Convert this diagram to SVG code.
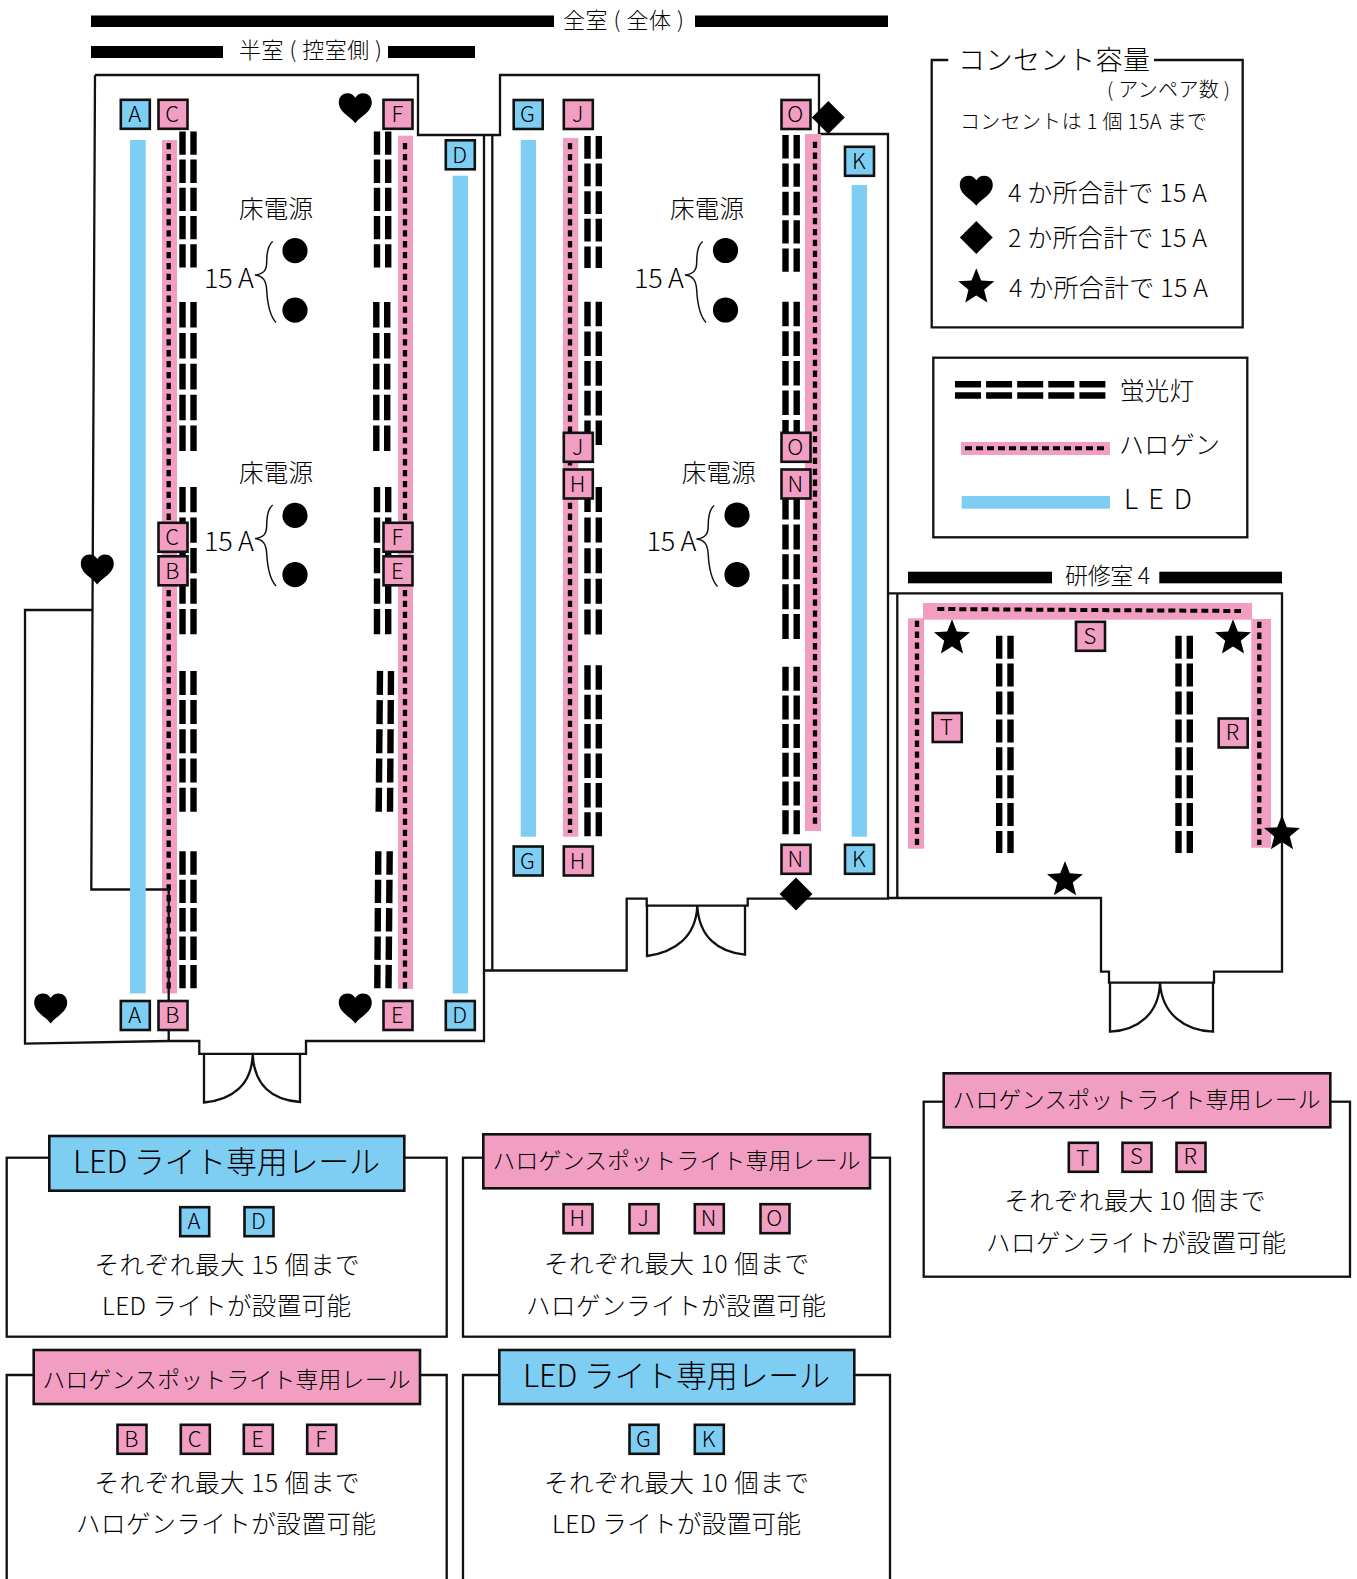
<svg xmlns="http://www.w3.org/2000/svg" width="1357" height="1579" viewBox="0 0 1357 1579">
<style>
text{font-family:"Noto Sans CJK JP","Noto Sans",sans-serif;font-weight:300;fill:#000}
.bt{font-size:22px;text-anchor:middle}
.b rect{stroke:#111;stroke-width:2.6}
.blue{fill:#7ecef4}
.pink{fill:#f19ec2}
.wall{fill:none;stroke:#111;stroke-width:2.3;stroke-linejoin:miter}
.brace{fill:none;stroke:#111;stroke-width:1.5}
.fl{fill:none;stroke:#000;stroke-width:6.4}
.dot{fill:none;stroke:#000;stroke-width:4.3;stroke-dasharray:6.3 4.6}
.dash{fill:none;stroke:#000;stroke-width:4;stroke-dasharray:7 4}
.bar{fill:#000}
.hd{stroke:#111;stroke-width:2.6}
.frame{fill:#fff;stroke:#111;stroke-width:2.3}
</style>
<defs>
<path id="heart" d="M0 15C-5 8-16.5 4-16.5-6C-16.5-12-12-15-8-15C-4-15-1.5-13 0-10.5C1.5-13 4-15 8-15C12-15 16.5-12 16.5-6C16.5 4 5 8 0 15Z"/>
<path id="star" d="M0-18.9L4.82-6.63L18-5.84L7.8 2.53L11.1 15.3L0 8.2L-11.1 15.3L-7.8 2.53L-18-5.84L-4.82-6.63Z"/>
<path id="diamond" d="M0-16.5L16.5 0L0 16.5L-16.5 0Z"/>
<path id="brace" d="M272.7 241.5C268 245 266.7 252 266.7 262C266.7 270 264 274 255 275C263 276 266 280 266.7 290C267.5 305 270 316 276 322.5"/>
</defs>

<g id="titles">
<rect class="bar" x="91" y="15.5" width="463" height="11.5"/>
<rect class="bar" x="695" y="15.5" width="193" height="11.5"/>
<text x="563" y="28" font-size="22" textLength="121">全室 ( 全体 )</text>
<rect class="bar" x="91" y="46" width="132" height="12"/>
<rect class="bar" x="388" y="46" width="87" height="12"/>
<text x="239" y="58" font-size="22" textLength="143">半室 ( 控室側 )</text>
<rect class="bar" x="908" y="571.7" width="144" height="11.6"/>
<rect class="bar" x="1159.3" y="571.7" width="122.7" height="11.6"/>
<text x="1065" y="583.5" font-size="23" textLength="85">研修室 4</text>
</g>

<g id="walls">
<path class="wall" d="M95 75H418V135H500V75H819V134H888V898.7H747.7V905.7H646.7V898.7H626.7V970.5H484"/>
<path class="wall" d="M95 75L92.5 610L91.3 889.5H135"/>
<path class="wall" d="M92.5 610H25V1043.6L169 1041H199.3V1053.8H306V1041H484V135"/>
<path class="wall" d="M492.3 135V970.5"/>
<path class="wall" d="M888 593.3H1282V971.7H1214V982.7H1109V971.7H1101V898H888"/>
<path class="wall" d="M897.3 593.3V898"/>
<path class="wall" d="M204 1054V1102.5C232 1100 252 1085 252.7 1054C254 1085 272 1100 300 1102V1054"/>
<path class="wall" d="M647 905.7V956C675 952 696 937 697.3 905.7C699 937 718 952 745 954.7V905.7"/>
<path class="wall" d="M1110 982.7V1031.7C1138 1030 1159 1014 1160 982.7C1162 1014 1184 1030 1213 1031.7V982.7"/>
</g>

<g id="rails">
<rect class="blue" x="130" y="140" width="15.7" height="853.5"/>
<rect class="blue" x="452.7" y="175.7" width="15.3" height="817.8"/>
<rect class="blue" x="520.7" y="140" width="15.3" height="696.7"/>
<rect class="blue" x="851.7" y="185" width="15.3" height="651.7"/>
<rect class="pink" x="162" y="140" width="15" height="853.5"/>
<rect class="pink" x="398" y="135.7" width="15" height="853.3"/>
<rect class="pink" x="563" y="138" width="15.3" height="698.7"/>
<rect class="pink" x="805" y="134" width="16" height="697"/>
<rect class="pink" x="923" y="603" width="329" height="16.7"/>
<rect class="pink" x="908" y="618.3" width="16" height="230.4"/>
<rect class="pink" x="1251.3" y="619" width="19.7" height="228.7"/>
<path class="dot" d="M168.7 143V993"/>
<path class="dot" d="M405 143V990"/>
<path class="dot" d="M570 143V833"/>
<path class="dot" d="M815 141.7V828"/>
<path class="dash" d="M937.3 609L1241 611"/>
<path class="dot" d="M917 620.7V846"/>
<path class="dot" d="M1259.3 621.7V845"/>
<path class="wall" d="M145.7 889.5H168.7V1041"/>
</g>

<g id="fluorescent">
<path class="fl" stroke-dasharray="23.3 4.9" d="M182.5 131.4V267.5M193.5 131.4V267.5"/>
<path class="fl" stroke-dasharray="25.6 5.3" d="M182.5 302V451M193.5 302V451"/>
<path class="fl" stroke-dasharray="25.3 5.2" d="M182.5 487V634.5M193.5 487V634.5"/>
<path class="fl" stroke-dasharray="24 5.2" d="M182.5 670.9V812M193.5 670.9V812"/>
<path class="fl" stroke-dasharray="23.4 5" d="M182.5 851.3V988.7M193.5 851.3V988.7"/>
<path class="fl" stroke-dasharray="23.3 4.9" d="M377 131.4V267.5M388.2 131.4V267.5"/>
<path class="fl" stroke-dasharray="25.6 5.3" d="M376.3 302V451M387.2 302V451"/>
<path class="fl" stroke-dasharray="25.3 5.2" d="M377 487V634.5M388.2 487V634.5"/>
<path class="fl" stroke-dasharray="24 5.2" d="M380 670.9L378.7 812M391 670.9L390 812"/>
<path class="fl" stroke-dasharray="23.4 5" d="M378.3 851.3L377.3 988.7M389.7 851.3L388.5 988.7"/>
<path class="fl" stroke-dasharray="22.7 4.9" d="M587.5 136V268M598.8 136V268"/>
<path class="fl" stroke-dasharray="24.6 5.1" d="M587.5 301.7V445M598.8 301.7V445"/>
<path class="fl" stroke-dasharray="25 5.6" d="M587.5 487V634.7M598.8 487V634.7"/>
<path class="fl" stroke-dasharray="24.5 4.9" d="M587.5 665.3V836.3M598.8 665.3V836.3"/>
<path class="fl" stroke-dasharray="23.4 5" d="M785.5 135V271.7M796.7 135V271.7"/>
<path class="fl" stroke-dasharray="24.6 5" d="M785.5 301.7V445M796.7 301.7V445"/>
<path class="fl" stroke-dasharray="25 4.9" d="M785.5 494.5V639M796.7 494.5V639"/>
<path class="fl" stroke-dasharray="24 4.7" d="M785.5 666.7V834.3M796.7 666.7V834.3"/>
<path class="fl" stroke-dasharray="23 4.9" d="M999.2 635.7V853M1010.5 635.7V853"/>
<path class="fl" stroke-dasharray="23 4.9" d="M1178.5 635.7V853M1189.8 635.7V853"/>
</g>

<g id="outlets">
<circle cx="295" cy="250.7" r="12.6"/><circle cx="295" cy="310.2" r="12.6"/>
<circle cx="295" cy="515.4" r="12.6"/><circle cx="295" cy="574.7" r="12.6"/>
<circle cx="725.5" cy="250.5" r="12.6"/><circle cx="725.5" cy="310" r="12.6"/>
<circle cx="737" cy="515" r="12.6"/><circle cx="737" cy="574.7" r="12.6"/>
<use class="brace" href="#brace"/>
<use class="brace" href="#brace" transform="translate(0 263.5)"/>
<use class="brace" href="#brace" transform="translate(430 0)"/>
<use class="brace" href="#brace" transform="translate(441.5 264)"/>
<text x="239" y="218" font-size="24.5" textLength="74">床電源</text>
<text x="239" y="482" font-size="24.5" textLength="74">床電源</text>
<text x="670" y="218" font-size="24.5" textLength="74">床電源</text>
<text x="681.7" y="482" font-size="24.5" textLength="74">床電源</text>
<text x="204" y="288" font-size="27" textLength="50">15 A</text>
<text x="204" y="550.5" font-size="27" textLength="50">15 A</text>
<text x="634" y="287.5" font-size="27" textLength="50">15 A</text>
<text x="646.5" y="550.5" font-size="27" textLength="50">15 A</text>
</g>

<g id="sockets">
<use href="#heart" x="355.3" y="108.3"/><use href="#heart" x="97.3" y="569.6"/>
<use href="#heart" x="50.7" y="1008.5"/><use href="#heart" x="355.3" y="1008.5"/>
<use href="#diamond" x="828.3" y="117.5"/><use href="#diamond" x="796" y="894"/>
<use href="#star" x="952" y="638.2"/><use href="#star" x="1233" y="638.2"/>
<use href="#star" x="1282" y="833.9"/><use href="#star" x="1065" y="880"/>
</g>

<g id="box-A1" class="b"><rect class="blue" x="120.8" y="99.8" width="29" height="29"/><text class="bt" x="134.8" y="122">A</text></g>
<g id="box-C1" class="b"><rect class="pink" x="158.5" y="99.8" width="29" height="29"/><text class="bt" x="172.2" y="122">C</text></g>
<g id="box-F1" class="b"><rect class="pink" x="383.5" y="99.8" width="29" height="29"/><text class="bt" x="397.3" y="122">F</text></g>
<g id="box-D1" class="b"><rect class="blue" x="445.8" y="140.3" width="29" height="29"/><text class="bt" x="459.6" y="162.5">D</text></g>
<g id="box-C2" class="b"><rect class="pink" x="158.5" y="522.8" width="29" height="29"/><text class="bt" x="172.2" y="545">C</text></g>
<g id="box-F2" class="b"><rect class="pink" x="383.5" y="522.8" width="29" height="29"/><text class="bt" x="397.3" y="545">F</text></g>
<g id="box-B2" class="b"><rect class="pink" x="158.5" y="556.3" width="29" height="29"/><text class="bt" x="172.2" y="578.5">B</text></g>
<g id="box-E2" class="b"><rect class="pink" x="383.5" y="556.3" width="29" height="29"/><text class="bt" x="397.3" y="578.5">E</text></g>
<g id="box-A3" class="b"><rect class="blue" x="120.8" y="1001" width="29" height="29"/><text class="bt" x="134.8" y="1023.2">A</text></g>
<g id="box-B3" class="b"><rect class="pink" x="158.5" y="1001" width="29" height="29"/><text class="bt" x="172.2" y="1023.2">B</text></g>
<g id="box-E3" class="b"><rect class="pink" x="383.5" y="1001" width="29" height="29"/><text class="bt" x="397.3" y="1023.2">E</text></g>
<g id="box-D3" class="b"><rect class="blue" x="445.8" y="1001" width="29" height="29"/><text class="bt" x="459.6" y="1023.2">D</text></g>
<g id="box-G1" class="b"><rect class="blue" x="513.7" y="100" width="29" height="29"/><text class="bt" x="527.5" y="122.2">G</text></g>
<g id="box-J1" class="b"><rect class="pink" x="563.8" y="100" width="29" height="29"/><text class="bt" x="577.6" y="122.2">J</text></g>
<g id="box-O1" class="b"><rect class="pink" x="781.5" y="100" width="29" height="29"/><text class="bt" x="795.3" y="122.2">O</text></g>
<g id="box-K1" class="b"><rect class="blue" x="845" y="146.8" width="29" height="29"/><text class="bt" x="858.8" y="169">K</text></g>
<g id="box-J2" class="b"><rect class="pink" x="563.8" y="432.8" width="29" height="29"/><text class="bt" x="577.6" y="455">J</text></g>
<g id="box-H2" class="b"><rect class="pink" x="563.8" y="469.5" width="29" height="29"/><text class="bt" x="577.6" y="491.7">H</text></g>
<g id="box-O2" class="b"><rect class="pink" x="781.5" y="432.8" width="29" height="29"/><text class="bt" x="795.3" y="455">O</text></g>
<g id="box-N2" class="b"><rect class="pink" x="781.5" y="469.5" width="29" height="29"/><text class="bt" x="795.3" y="491.7">N</text></g>
<g id="box-G3" class="b"><rect class="blue" x="513.7" y="846.5" width="29" height="29"/><text class="bt" x="527.5" y="868.7">G</text></g>
<g id="box-H3" class="b"><rect class="pink" x="563.8" y="846.5" width="29" height="29"/><text class="bt" x="577.6" y="868.7">H</text></g>
<g id="box-N3" class="b"><rect class="pink" x="781.5" y="844.8" width="29" height="29"/><text class="bt" x="795.3" y="867">N</text></g>
<g id="box-K3" class="b"><rect class="blue" x="845" y="844.8" width="29" height="29"/><text class="bt" x="858.8" y="867">K</text></g>
<g id="box-S" class="b"><rect class="pink" x="1076" y="621.8" width="29" height="29"/><text class="bt" x="1089.8" y="643.5">S</text></g>
<g id="box-T" class="b"><rect class="pink" x="932.7" y="713" width="29" height="29"/><text class="bt" x="946.5" y="734.7">T</text></g>
<g id="box-R" class="b"><rect class="pink" x="1218.7" y="718.5" width="29" height="29"/><text class="bt" x="1232.5" y="740.2">R</text></g>

<g id="legend-capacity">
<path class="wall" d="M948.3 60H931.7V327.3H1242.7V60H1154"/>
<text x="958" y="70" font-size="27" textLength="192">コンセント容量</text>
<text x="1107" y="97" font-size="20" textLength="123">( アンペア数 )</text>
<text x="960" y="129" font-size="20" textLength="247">コンセントは 1 個 15A まで</text>
<use href="#heart" x="976.3" y="190.7"/>
<use href="#diamond" x="976.3" y="237.5"/>
<use href="#star" x="976.3" y="287.2"/>
<text x="1008" y="202" font-size="25" textLength="199">4 か所合計で 15 A</text>
<text x="1008" y="247" font-size="25" textLength="199">2 か所合計で 15 A</text>
<text x="1009" y="296.5" font-size="25" textLength="199">4 か所合計で 15 A</text>
</g>

<g id="legend-types">
<rect class="wall" x="933.3" y="357.7" width="314" height="179.6"/>
<path class="fl" stroke-dasharray="26 5.1" d="M955 384.2H1107M955 395.5H1107"/>
<rect class="pink" x="961" y="442" width="149" height="13"/>
<path class="dash" d="M965 448.3H1107"/>
<rect class="blue" x="961.7" y="496" width="148.3" height="12.7"/>
<text x="1120" y="399.5" font-size="24.5" textLength="74">蛍光灯</text>
<text x="1119" y="453.5" font-size="25" textLength="101">ハロゲン</text>
<text x="1124" y="508.5" font-size="27" textLength="68">L E D</text>
</g>

<g id="panel-led-ad">
<rect class="frame" x="6.7" y="1157.7" width="440" height="179"/>
<rect class="blue hd" x="49.3" y="1136" width="355" height="54.7"/>
<text x="73" y="1172.5" font-size="31" textLength="307">LED ライト専用レール</text>
<g class="b"><rect class="blue" x="180.2" y="1207.2" width="29" height="29"/><text class="bt" x="194" y="1229.4">A</text></g>
<g class="b"><rect class="blue" x="244.5" y="1207.2" width="29" height="29"/><text class="bt" x="258.3" y="1229.4">D</text></g>
<text x="94.5" y="1274" font-size="24.5" textLength="265">それぞれ最大 15 個まで</text>
<text x="102" y="1314.7" font-size="24.5" textLength="249">LED ライトが設置可能</text>
</g>

<g id="panel-hal-bcef">
<path class="frame" d="M6.7 1585V1375H446.7V1585"/>
<rect class="pink hd" x="33.7" y="1350" width="386.3" height="54"/>
<text x="42.5" y="1387.5" font-size="22.8" textLength="368">ハロゲンスポットライト専用レール</text>
<g class="b"><rect class="pink" x="117.5" y="1424.8" width="29" height="29"/><text class="bt" x="131.3" y="1447">B</text></g>
<g class="b"><rect class="pink" x="180.8" y="1424.8" width="29" height="29"/><text class="bt" x="194.6" y="1447">C</text></g>
<g class="b"><rect class="pink" x="243.8" y="1424.8" width="29" height="29"/><text class="bt" x="257.6" y="1447">E</text></g>
<g class="b"><rect class="pink" x="307.2" y="1424.8" width="29" height="29"/><text class="bt" x="321" y="1447">F</text></g>
<text x="94.5" y="1492.3" font-size="24.5" textLength="265">それぞれ最大 15 個まで</text>
<text x="76" y="1533.3" font-size="24.5" textLength="300">ハロゲンライトが設置可能</text>
</g>

<g id="panel-hal-hjno">
<rect class="frame" x="463" y="1157.7" width="427" height="179"/>
<rect class="pink hd" x="483.3" y="1134.3" width="386.7" height="54"/>
<text x="492.5" y="1169" font-size="22.8" textLength="368">ハロゲンスポットライト専用レール</text>
<g class="b"><rect class="pink" x="563.5" y="1204.2" width="29" height="29"/><text class="bt" x="577.3" y="1226.4">H</text></g>
<g class="b"><rect class="pink" x="629.5" y="1204.2" width="29" height="29"/><text class="bt" x="643.3" y="1226.4">J</text></g>
<g class="b"><rect class="pink" x="694.8" y="1204.2" width="29" height="29"/><text class="bt" x="708.6" y="1226.4">N</text></g>
<g class="b"><rect class="pink" x="760.5" y="1204.2" width="29" height="29"/><text class="bt" x="774.3" y="1226.4">O</text></g>
<text x="544" y="1273" font-size="24.5" textLength="265">それぞれ最大 10 個まで</text>
<text x="526" y="1314.7" font-size="24.5" textLength="300">ハロゲンライトが設置可能</text>
</g>

<g id="panel-led-gk">
<path class="frame" d="M463 1585V1375H890V1585"/>
<rect class="blue hd" x="499.3" y="1350" width="355" height="54"/>
<text x="523" y="1386.5" font-size="31" textLength="307">LED ライト専用レール</text>
<g class="b"><rect class="blue" x="629.5" y="1424.8" width="29" height="29"/><text class="bt" x="643.3" y="1447">G</text></g>
<g class="b"><rect class="blue" x="694.8" y="1424.8" width="29" height="29"/><text class="bt" x="708.6" y="1447">K</text></g>
<text x="544" y="1492.3" font-size="24.5" textLength="265">それぞれ最大 10 個まで</text>
<text x="552" y="1533.3" font-size="24.5" textLength="249">LED ライトが設置可能</text>
</g>

<g id="panel-hal-tsr">
<rect class="frame" x="923.7" y="1101.7" width="426.3" height="175"/>
<rect class="pink hd" x="943.7" y="1073.3" width="386.6" height="54"/>
<text x="952.5" y="1107.5" font-size="22.8" textLength="368">ハロゲンスポットライト専用レール</text>
<g class="b"><rect class="pink" x="1068.8" y="1142.8" width="29" height="29"/><text class="bt" x="1082.6" y="1166">T</text></g>
<g class="b"><rect class="pink" x="1122.5" y="1142.8" width="29" height="29"/><text class="bt" x="1136.3" y="1164">S</text></g>
<g class="b"><rect class="pink" x="1176.5" y="1142.8" width="29" height="29"/><text class="bt" x="1190.3" y="1164">R</text></g>
<text x="1004.5" y="1209.5" font-size="24.5" textLength="261">それぞれ最大 10 個まで</text>
<text x="986" y="1252.3" font-size="24.5" textLength="300">ハロゲンライトが設置可能</text>
</g>
</svg>
